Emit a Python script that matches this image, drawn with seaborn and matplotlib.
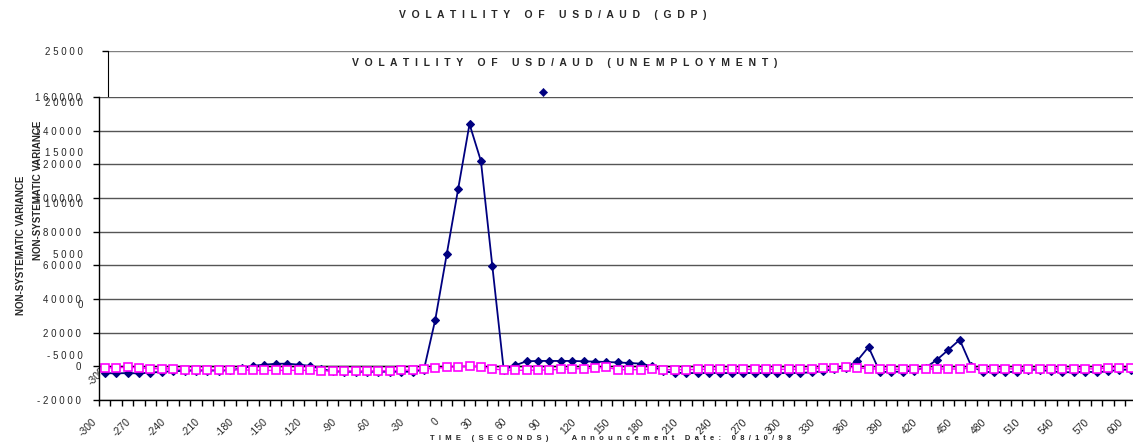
import matplotlib
matplotlib.use("Agg")
import matplotlib.pyplot as plt
import pandas as pd
import seaborn as sns

# time categories (seconds around the announcement)
times = list(range(-300, 610, 10))

# unemployment chart, series drawn with navy diamonds
unemp_diamond = [
    -4000, -4200, -4000, -4200, -3800, -3200, -3000, -2600, -2500, -2500,
    -2500, -2400, -1200, 300, 1000, 1500, 1600, 1000, 300, -1500,
    -3000, -3200, -3200, -3200, -3200, -3200, -3200, -3200, -2000, 27800,
    66500, 105200, 143900, 122000, 59700, -2000, 600, 3000, 3200, 3200,
    3200, 3200, 3000, 2800, 2600, 2300, 2000, 1600, 100, -3000,
    -3800, -4000, -4000, -4000, -4000, -4000, -4000, -4000, -4000, -4000,
    -4000, -4000, -3500, -3000, -1500, -800, 3200, 11500, -3400, -3200,
    -3200, -2500, -800, 3900, 9800, 15800, 300, -3200, -3500, -3500,
    -3200, -2000, -2000, -3000, -3500, -3500, -3200, -3500, -3000, -2000,
    -2000,
]

# unemployment chart, series drawn with open magenta squares
unemp_square = [
    -900, -900, -500, -900, -1300, -1500, -1500, -1900, -2100, -2100,
    -2100, -2100, -2000, -2400, -2400, -2400, -2400, -2400, -2400, -2600,
    -2800, -2800, -2800, -2800, -2800, -2600, -2400, -2200, -1600, -1200,
    -600, -200, 200, -200, -1500, -2200, -2400, -2300, -2300, -2100,
    -1800, -1500, -1400, -1100, -600, -2000, -2000, -2000, -1800, -2000,
    -2000, -2000, -1800, -1800, -1800, -1800, -1800, -1800, -1800, -1800,
    -1800, -1800, -1400, -1000, -1000, -400, -1000, -1400, -1700, -1700,
    -1700, -1700, -1600, -1600, -1600, -1600, -1000, -1500, -1500, -1500,
    -1500, -1500, -1500, -1500, -1500, -1500, -1500, -1500, -1000, -700,
    -1000,
]

# the only point of the GDP chart that shows above the overlapping chart
gdp_time = [80]
gdp_value = [21000]

unemp_yticks = [-20000, 0, 20000, 40000, 60000, 80000, 100000, 120000, 140000, 160000]
gdp_yticks = [-5000, 0, 5000, 10000, 15000, 20000, 25000]
label_step = 30

gdp_title = "VOLATILITY OF USD/AUD (GDP)"
unemp_title = "VOLATILITY OF USD/AUD (UNEMPLOYMENT)"
y_title = "NON-SYSTEMATIC VARIANCE"
x_title = "TIME (SECONDS)"
date_note = "Announcement Date: 08/10/98"

NAVY = "#000080"
MAGENTA = "#FF00FF"


def spaced(text, gap=" "):
    return gap.join(text)


sns.set_style("ticks")
plt.rcParams["font.family"] = ["Liberation Sans", "DejaVu Sans"]

W, H = 1133, 448
fig = plt.figure(figsize=(W / 100, H / 100), dpi=100)


def rect(left, top, right, bottom):
    return [left / W, 1 - bottom / H, (right - left) / W, (bottom - top) / H]


# tick marks sit between categories, labels every 30 s
bounds = [t - 5 for t in times]
xlabels = [str(t) if t % label_step == 0 else "" for t in times]

# --- background chart (GDP) ---
ax_gdp = fig.add_axes(rect(108, 51, W, 355))
ax_gdp.set_xlim(-305, 602)
ax_gdp.set_ylim(-5000, 25000)
sns.scatterplot(x=gdp_time, y=gdp_value, ax=ax_gdp, marker="D", s=18,
                color=NAVY, edgecolor=NAVY, zorder=3)
ax_gdp.set_yticks(gdp_yticks)
ax_gdp.set_yticklabels([spaced(str(v)) for v in gdp_yticks], fontsize=7)
ax_gdp.set_xticks(bounds)
ax_gdp.set_xticklabels(xlabels, rotation=45, ha="right", fontsize=7.5)
ax_gdp.tick_params(axis="y", length=4, width=1, pad=14, color="black")
ax_gdp.tick_params(axis="x", length=4, width=1, pad=4, color="black")
ax_gdp.yaxis.grid(True, color="#808080", lw=1)
for side in ["top", "right", "bottom"]:
    ax_gdp.spines[side].set_visible(False)
ax_gdp.spines["left"].set_color("black")

# --- foreground chart (UNEMPLOYMENT) ---
ax = fig.add_axes(rect(99, 97, W, 400))
ax.set_facecolor("white")
df = pd.DataFrame({"time": times, "diamond": unemp_diamond, "square": unemp_square})
sns.lineplot(data=df, x="time", y="diamond", ax=ax, color=NAVY, lw=1.3,
             marker="D", markersize=4, markeredgecolor=NAVY,
             markerfacecolor=NAVY, markeredgewidth=0.8)
sns.lineplot(data=df, x="time", y="square", ax=ax, color=MAGENTA, lw=1.0,
             marker="s", markersize=5.5, markeredgecolor=MAGENTA,
             markerfacecolor="white", markeredgewidth=1.2)
ax.set_xlabel("")
ax.set_ylabel("")
ax.set_xlim(-305, 602)
ax.set_ylim(-20000, 160000)
ax.set_axisbelow(True)
ax.yaxis.grid(True, color="#555555", lw=1)
ax.axhline(0, color="black", lw=1, zorder=1)
ax.set_yticks(unemp_yticks)
ax.set_yticklabels([spaced(str(v)) for v in unemp_yticks], fontsize=7)
ax.set_xticks(bounds)
ax.set_xticklabels(xlabels, rotation=45, ha="right", fontsize=7.5)
ax.tick_params(axis="y", length=4, width=1, pad=9, color="black")
ax.tick_params(axis="x", length=4, width=1, pad=8, color="black")
for side in ["top", "right"]:
    ax.spines[side].set_visible(False)
for side in ["left", "bottom"]:
    ax.spines[side].set_color("black")
    ax.spines[side].set_linewidth(1)

# --- titles and axis texts ---
fig.text(553 / W, 1 - 15 / H, spaced(gdp_title, "  "), ha="center", va="center",
         fontsize=7.5, fontweight="bold")
fig.text(565 / W, 1 - 63 / H, spaced(unemp_title, "  "), ha="center", va="center",
         fontsize=7.5, fontweight="bold")
fig.text(21 / W, 1 - 245 / H, y_title, rotation=90, ha="center", va="center",
         fontsize=7, fontweight="bold")
fig.text(38 / W, 1 - 190 / H, y_title, rotation=90, ha="center", va="center",
         fontsize=7, fontweight="bold")
fig.text(430 / W, 1 - 438 / H,
         spaced(x_title, "  ") + " " * 11 + spaced(date_note, "  "),
         ha="left", va="center", fontsize=5.5, fontweight="bold")

fig.savefig("out.png", dpi=100)
